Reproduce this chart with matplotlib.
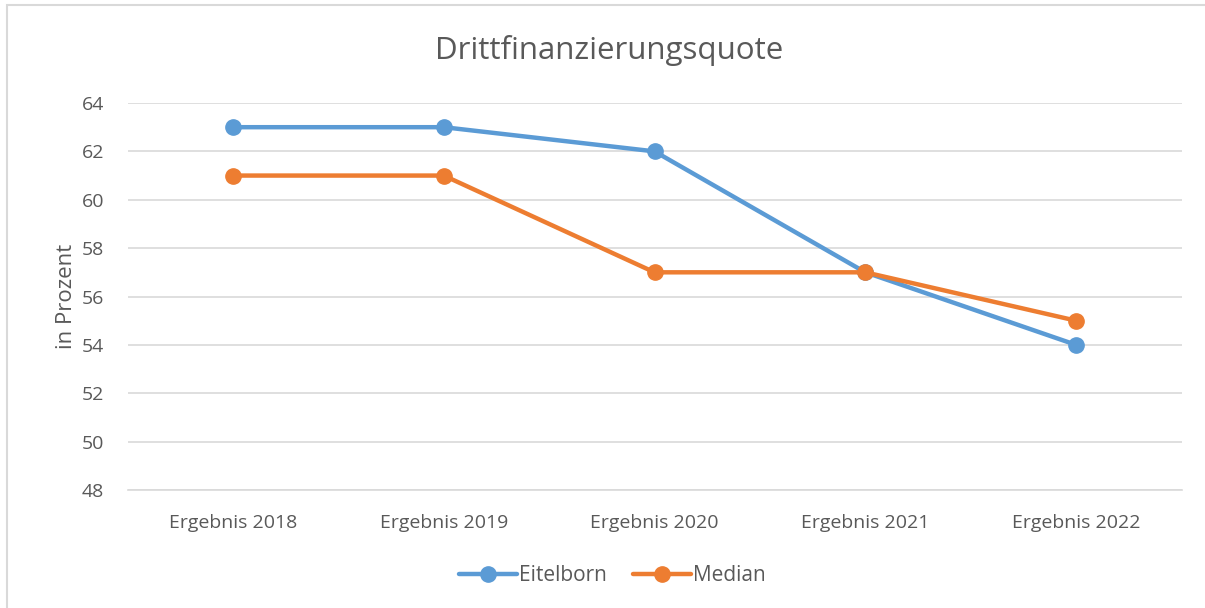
import matplotlib.pyplot as plt
from matplotlib.patches import Rectangle

categories = ["Ergebnis 2018", "Ergebnis 2019", "Ergebnis 2020", "Ergebnis 2021", "Ergebnis 2022"]
eitelborn = [63, 63, 62, 57, 54]
median = [61, 61, 57, 57, 55]
yticks = [48, 50, 52, 54, 56, 58, 60, 62, 64]

blue = "#5B9BD5"
orange = "#ED7D31"
text_col = "#595959"

plt.rcParams["font.family"] = ["Open Sans", "DejaVu Sans"]

fig = plt.figure(figsize=(12.05, 6.08), dpi=100)
fig.patches.append(Rectangle((7 / 1205, -0.1), 1.2, 1.1 - 5 / 608, transform=fig.transFigure,
                             fill=False, edgecolor="#D9D9D9", linewidth=1.5))
ax = fig.add_axes([127.5 / 1205, 1 - 490 / 608, 1054 / 1205, 387 / 608])

x = range(len(categories))
ax.plot(x, eitelborn, color=blue, lw=3.2, marker="o", ms=11, label="Eitelborn", solid_capstyle="round")
ax.plot(x, median, color=orange, lw=3.2, marker="o", ms=11, label="Median", solid_capstyle="round")

ax.set_xlim(-0.5, len(categories) - 0.5)
ax.set_ylim(48, 64)
ax.set_yticks(yticks)
ax.set_xticks(list(x))
ax.set_xticklabels(categories)
ax.tick_params(length=0, colors=text_col, labelsize=14)
ax.tick_params(axis="y", pad=17)
ax.tick_params(axis="x", pad=17)
ax.grid(axis="y", color="#D9D9D9", lw=1.2)
ax.set_axisbelow(True)
for s in ["top", "right", "left"]:
    ax.spines[s].set_visible(False)
ax.spines["bottom"].set_color("#D9D9D9")
ax.spines["bottom"].set_linewidth(1.2)

ax.set_ylabel("in Prozent", color=text_col, fontsize=16, labelpad=3)
fig.text(609 / 1205, 1 - 50 / 608, "Drittfinanzierungsquote", ha="center", va="center",
         fontsize=22.5, color=text_col)

ax.legend(loc="center", bbox_to_anchor=(0.46, -0.222), ncol=2, frameon=False, fontsize=15,
          labelcolor=text_col, handlelength=2.8, handletextpad=0.1, columnspacing=1.25)

fig.savefig("out.png", dpi=100)
